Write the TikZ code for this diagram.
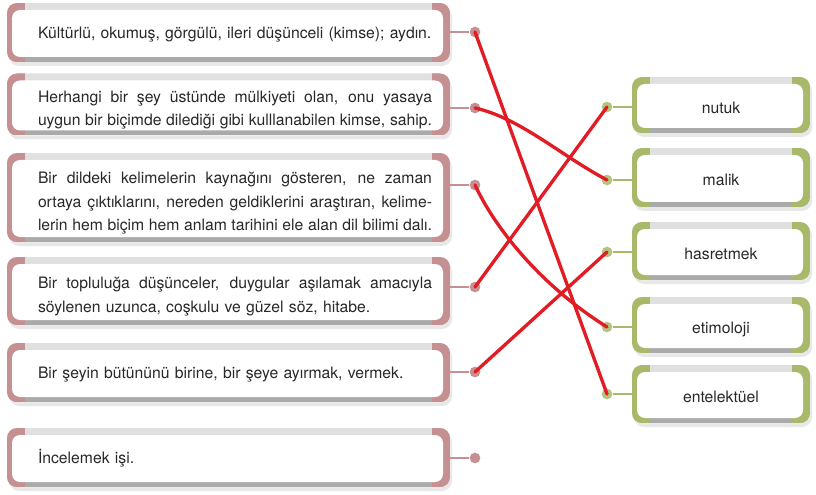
\documentclass[tikz,border=0pt]{standalone}
\usepackage{fontspec}
\setmainfont{TeX Gyre Heros}
\usetikzlibrary{shadows}
\definecolor{leftrose}{RGB}{196,144,146}
\definecolor{rightolive}{RGB}{168,185,106}
\definecolor{bandgray}{RGB}{224,224,224}
\definecolor{shadegray}{RGB}{170,170,170}
\definecolor{inkgray}{RGB}{40,40,40}
\definecolor{matchred}{RGB}{226,28,36}
\newcommand{\fullrow}[1]{\makebox[295.5pt][s]{\spaceskip=0.278em plus 1fil minus 0.08em\relax#1}}
\newcommand{\plainrow}[1]{\makebox[295.5pt][l]{#1}}
\tikzset{
card/.style={rectangle, rounded corners=7.5pt, fill=white, inner ysep=0pt, text=inkgray,
  font=\fontsize{11.8}{17.6}\selectfont,
  drop shadow={shadow xshift=1.5pt, shadow yshift=-3pt, opacity=0.18},
  path picture={
   \fill[bandgray, sharp corners] (path picture bounding box.north west) rectangle (path picture bounding box.south east);
   \fill[shadegray, sharp corners] ([yshift=4.5pt]path picture bounding box.south west) rectangle (path picture bounding box.south east);
   \fill[#1, sharp corners] (path picture bounding box.north west) rectangle ([xshift=13.5pt]path picture bounding box.south west);
   \fill[#1, sharp corners] ([xshift=-13.5pt]path picture bounding box.north east) rectangle (path picture bounding box.south east);
   \fill[white, rounded corners=6pt] ([shift={(3.75pt,-5.25pt)}]path picture bounding box.north west) rectangle ([shift={(-5.25pt,3.75pt)}]path picture bounding box.south east);
  }},
lcard/.style={card=leftrose, minimum width=332.25pt, text width=305.25pt, inner xsep=13.5pt, align=right,
  execute at begin node={\rule{0pt}{#1}}},
lcard/.default=11.7pt,
rcard/.style={card=rightolive, minimum width=133.5pt, align=center, text height=15pt, text depth=2.5pt},
ldot/.style={circle, fill=leftrose, inner sep=0pt, minimum size=8pt},
rdot/.style={circle, fill=rightolive!85!white, inner sep=0pt, minimum size=8pt},
lstub/.style={draw=leftrose, line width=0.9pt},
rstub/.style={draw=rightolive, line width=0.9pt},
match/.style={draw=matchred, line width=2.5pt, line cap=round}
}
\begin{document}
\begin{tikzpicture}[x=0.75pt,y=-0.75pt]
\useasboundingbox (0,0) rectangle (816,495);

\node[lcard, minimum height=44.25pt] (d1) at (228.5,32.5) {\plainrow{Kültürlü, okumuş, görgülü, ileri düşünceli (kimse); aydın.}};
\node[lcard=17pt, minimum height=46.5pt] (d2) at (228.5,104.5) {\fullrow{Herhangi bir şey üstünde mülkiyeti olan, onu yasaya}\\\fullrow{uygun bir biçimde dilediği gibi kulllanabilen kimse, sahip.}};
\node[lcard=17pt, minimum height=66.75pt] (d3) at (228.5,197.5) {\fullrow{Bir dildeki kelimelerin kaynağını gösteren, ne zaman}\\\fullrow{ortaya çıktıklarını, nereden geldiklerini araştıran, kelime-}\\\fullrow{lerin hem biçim hem anlam tarihini ele alan dil bilimi dalı.}};
\node[lcard=17pt, minimum height=51pt] (d4) at (228.5,291) {\fullrow{Bir topluluğa düşünceler, duygular aşılamak amacıyla}\\\plainrow{söylenen uzunca, coşkulu ve güzel söz, hitabe.}};
\node[lcard, minimum height=44.25pt] (d5) at (228.5,372.5) {\plainrow{Bir şeyin bütününü birine, bir şeye ayırmak, vermek.}};
\node[lcard, minimum height=44.25pt] (d6) at (228.5,457.5) {\plainrow{İncelemek işi.}};

\node[rcard, minimum height=42pt] (w1) at (721,105) {nutuk};
\node[rcard, minimum height=44.25pt] (w2) at (721,177.5) {malik};
\node[rcard, minimum height=43.5pt] (w3) at (721,251) {hasretmek};
\node[rcard, minimum height=42pt] (w4) at (721,325) {etimoloji};
\node[rcard, minimum height=43.5pt] (w5) at (721,394) {entelektüel};

\node[ldot] (a1) at (475,32) {};
\node[ldot] (a2) at (475,108) {};
\node[ldot] (a3) at (475,185) {};
\node[ldot] (a4) at (475,287) {};
\node[ldot] (a5) at (475,372) {};
\node[ldot] (a6) at (475,458) {};
\draw[lstub] (d1.east |- a1) -- (a1);
\draw[lstub] (d2.east |- a2) -- (a2);
\draw[lstub] (d3.east |- a3) -- (a3);
\draw[lstub] (d4.east |- a4) -- (a4);
\draw[lstub] (d5.east |- a5) -- (a5);
\draw[lstub] (d6.east |- a6) -- (a6);

\node[rdot] (b1) at (607,107) {};
\node[rdot] (b2) at (607,180) {};
\node[rdot] (b3) at (607,252) {};
\node[rdot] (b4) at (607,327) {};
\node[rdot] (b5) at (607,394) {};
\draw[rstub] (b1) -- (w1.west |- b1);
\draw[rstub] (b2) -- (w2.west |- b2);
\draw[rstub] (b3) -- (w3.west |- b3);
\draw[rstub] (b4) -- (w4.west |- b4);
\draw[rstub] (b5) -- (w5.west |- b5);

\draw[match] (a1.center) -- (b5.center);
\draw[match] (a2.center) .. controls (520,118) and (560,155) .. (b2.center);
\draw[match] (a3.center) .. controls (495,228) and (540,285) .. (b4.center);
\draw[match] (a4.center) -- (b1.center);
\draw[match] (a5.center) -- (b3.center);

\end{tikzpicture}
\end{document}
